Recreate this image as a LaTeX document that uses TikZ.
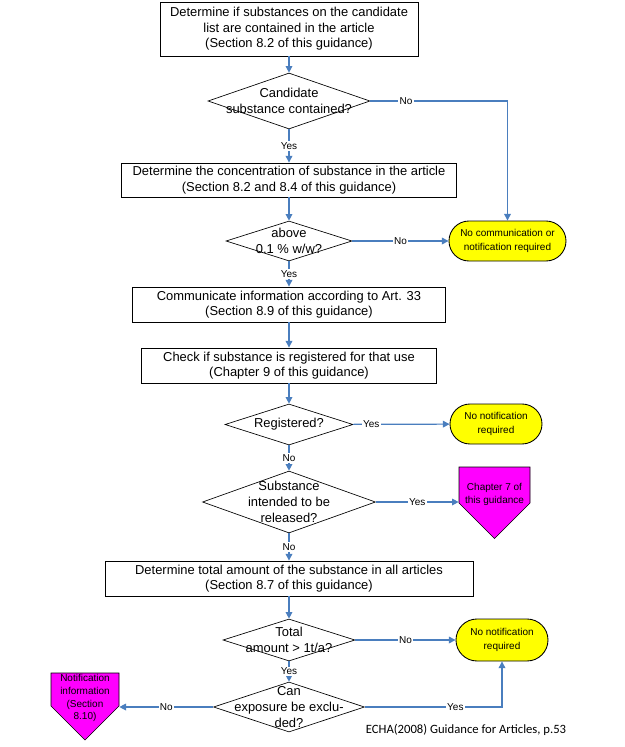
\documentclass[tikz,border=0pt]{standalone}
\usepackage{fontspec}
\setmainfont{Liberation Sans}
\newfontfamily\capfont{Carlito}
\usetikzlibrary{shapes.geometric,shapes.misc,shapes.symbols,arrows.meta}
\definecolor{flowblue}{RGB}{74,126,190}
\definecolor{termyellow}{RGB}{255,255,0}
\definecolor{pagemagenta}{RGB}{255,0,255}
\begin{document}
\begin{tikzpicture}[x=0.75pt,y=-0.75pt,
    procbox/.style={draw,line width=0.65pt,align=center,inner sep=0pt,font=\fontsize{9.7}{11.6}\selectfont},
    decision/.style={draw,diamond,line width=0.5pt,inner sep=0pt},
    dtext/.style={align=center,inner sep=0pt,font=\fontsize{9.7}{12.2}\selectfont},
    terminal/.style={draw,rounded rectangle,fill=termyellow,line width=0.65pt,inner sep=0pt,align=center,font=\fontsize{7.5}{10}\selectfont},
    offpage/.style={draw,signal,signal to=south,signal pointer angle=90,fill=pagemagenta,line width=0.5pt,inner sep=0pt},
    ptext/.style={align=center,inner sep=0pt,font=\fontsize{7.5}{9.7}\selectfont},
    flow/.style={flowblue,line width=0.9pt,-{Triangle[width=5pt,length=5pt]}},
    answer/.style={fill=white,text=black,inner sep=1pt,font=\fontsize{7.5}{9}\selectfont}]
    \useasboundingbox (0,0) rectangle (625,747);

    % Process boxes
    \node[procbox,minimum width=193.5pt,minimum height=40.5pt] (b1) at (289,29) {Determine if substances on the candidate\\list are contained in the article\\(Section 8.2 of this guidance)};
    \node[procbox,minimum width=251.25pt,minimum height=25.5pt] (b2) at (289,180) {Determine the concentration of substance in the article\\(Section 8.2 and 8.4 of this guidance)};
    \node[procbox,minimum width=234.75pt,minimum height=26.25pt] (b3) at (289,304.5) {Communicate information according to Art. 33\\(Section 8.9 of this guidance)};
    \node[procbox,minimum width=221.25pt,minimum height=26.25pt] (b4) at (289,365.5) {Check if substance is registered for that use\\(Chapter 9 of this guidance)};
    \node[procbox,minimum width=276pt,minimum height=26.25pt] (b5) at (289,578.5) {Determine total amount of the substance in all articles\\(Section 8.7 of this guidance)};

    % Decisions
    \node[decision,minimum width=121.5pt,minimum height=42pt] (d1) at (289,101) {};
    \node[dtext] (d1t) at (d1) {Candidate\\substance contained?};
    \node[decision,minimum width=94.5pt,minimum height=30pt] (d2) at (289,241) {};
    \node[dtext] (d2t) at (d2) {above\\0.1 \% w/w?};
    \node[decision,minimum width=96pt,minimum height=30.75pt] (d3) at (289,424.5) {};
    \node[dtext] (d3t) at (d3) {Registered?};
    \node[decision,minimum width=129.75pt,minimum height=46.5pt] (d4) at (289,502) {};
    \node[dtext] (d4t) at (d4) {Substance\\intended to be\\released?};
    \node[decision,minimum width=99pt,minimum height=31.5pt] (d5) at (289,640) {};
    \node[dtext] (d5t) at (d5) {Total\\amount > 1t/a?};
    \node[decision,minimum width=113.25pt,minimum height=37.5pt] (d6) at (289,707) {};
    \node[dtext] (d6t) at (d6) {Can\\exposure be exclu-\\ded?};

    % End points
    \node[terminal,minimum width=87.75pt,minimum height=30pt] (t1) at (507.5,241) {No communication or\\notification required};
    \node[terminal,minimum width=69pt,minimum height=30pt] (t2) at (496,424) {No notification\\required};
    \node[terminal,minimum width=69pt,minimum height=31.5pt] (t3) at (502,640) {No notification\\required};

    % Off-page references
    \node[offpage,minimum width=53.25pt,minimum height=27pt] (p1) at (494.5,485) {};
    \node[ptext] (p1t) at (494.5,494.5) {Chapter 7 of\\this guidance};
    \node[offpage,minimum width=51pt,minimum height=24.75pt] (p2) at (85,689.5) {};
    \node[ptext] (p2t) at (85,698) {Notification\\information\\(Section\\8.10)};

    % Connectors
    \draw[flow] (b1) -- (d1);
    \draw[flow] (d1.east) -| node[answer,pos=0.13] {No} (t1.north);
    \draw[flow] (d1) -- node[answer] {Yes} (b2);
    \draw[flow] (b2) -- (d2);
    \draw[flow] (d2) -- node[answer] {No} (t1);
    \draw[flow] (d2) -- node[answer] {Yes} (b3);
    \draw[flow] (b3) -- (b4);
    \draw[flow] (b4) -- (d3);
    \draw[flow] (d3) -- node[answer,pos=0.19] {Yes} (t2);
    \draw[flow] (d3) -- node[answer] {No} (d4);
    \draw[flow] (d4.east) -- node[answer] {Yes} (d4.east -| p1.west);
    \draw[flow] (d4) -- node[answer] {No} (b5);
    \draw[flow] (b5) -- (d5);
    \draw[flow] (d5) -- node[answer] {No} (t3);
    \draw[flow] (d5) -- node[answer] {Yes} (d6);
    \draw[flow] (d6.west) -- node[answer] {No} (d6.west -| p2.east);
    \draw[flow] (d6.east) -| node[answer,pos=0.33] {Yes} (t3.south);

    % Source
    \node[font=\capfont\fontsize{9.5}{11}\selectfont] (src) at (466,730) {ECHA(2008) Guidance for Articles, p.53};
\end{tikzpicture}
\end{document}
